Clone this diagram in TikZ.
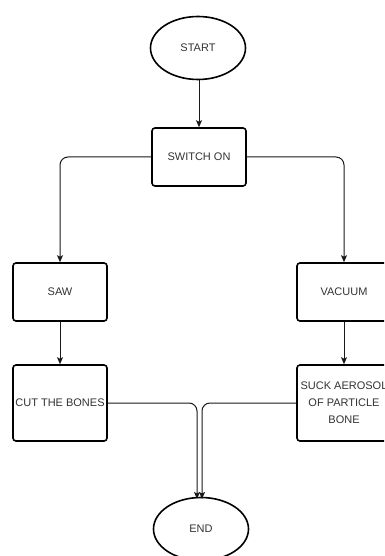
\documentclass[tikz,border=0pt]{standalone}
\usepackage{fontspec}
\setmainfont{Liberation Sans}
\usetikzlibrary{shapes.geometric,arrows.meta}
\definecolor{txt}{HTML}{333333}
\begin{document}
\begin{tikzpicture}[x=1pt,y=-1pt,
  every node/.style={font=\fontsize{11}{17}\selectfont, text=txt},
  box/.style={draw=black, line width=1.6pt, rounded corners=3pt, minimum width=94pt, minimum height=58pt, inner sep=0pt, align=center},
  oval/.style={draw=black, line width=1.6pt, ellipse, minimum width=95pt, minimum height=63pt, inner sep=0pt},
  conn/.style={draw=black!90, line width=1pt, -{Stealth[length=7pt,width=6pt,inset=1.5pt]}},
  roundconn/.style={conn, rounded corners=8pt}]
\useasboundingbox (0,0) rectangle (384,556);
\clip (0,0) rectangle (384,556);
\fill[white] (0,0) rectangle (384,556);
\node[oval] (start) at (198,48) {START};
\node[box] (sw) at (199,157) {SWITCH ON};
\node[box] (saw) at (60,292) {SAW};
\node[box] (vac) at (344,292) {VACUUM};
\node[box, minimum height=76pt] (cut) at (60,403) {CUT THE BONES};
\node[box, minimum height=76pt] (suck) at (344,403) {SUCK AEROSOL\\OF PARTICLE\\BONE};
\node[oval] (end) at (201,529) {END};
\coordinate (e1) at (197,499);
\coordinate (e2) at (202,499);
\draw[conn] (start.south -| sw.north) -- (sw.north);
\draw[roundconn] (sw.west) -| (saw.north);
\draw[roundconn] (sw.east) -| (vac.north);
\draw[conn] (saw.south) -- (cut.north);
\draw[conn] (vac.south) -- (suck.north);
\draw[roundconn] (cut.east) -| (e1);
\draw[roundconn] (suck.west) -| (e2);
\end{tikzpicture}
\end{document}
